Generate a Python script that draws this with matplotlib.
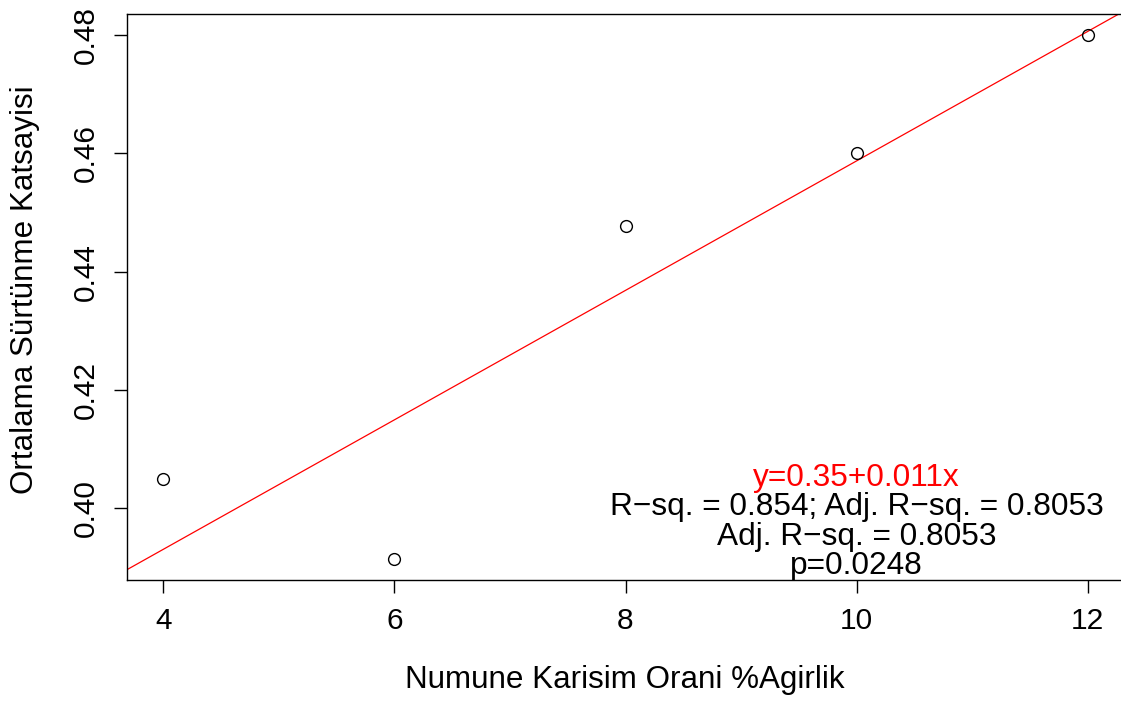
import numpy as np
import matplotlib
matplotlib.use("Agg")
import matplotlib.pyplot as plt

plt.rcParams['font.family'] = ['Liberation Sans', 'DejaVu Sans']

# data
karisim_orani = [4, 6, 8, 10, 12]
surtunme = [0.405, 0.3914, 0.4477, 0.4601, 0.4800]

x_ticks = [4, 6, 8, 10, 12]
y_ticks = [0.40, 0.42, 0.44, 0.46, 0.48]

stat_lines = ["y=0.35+0.011x",
              "R\u2212sq. = 0.854; Adj. R\u2212sq. = 0.8053",
              "Adj. R\u2212sq. = 0.8053",
              "p=0.0248"]
stat_colors = ["red", "black", "black", "black"]
stat_x = 10
stat_y = [0.4051, 0.4002, 0.3951, 0.3902]

W, H = 1121, 703
fig = plt.figure(figsize=(W / 100, H / 100), dpi=100)
# plot region in pixels (runs slightly past the right edge like the original)
left, right, top, bottom = 126.5, 1124.5, 14, 580
ax = fig.add_axes([left / W, 1 - bottom / H, (right - left) / W, (bottom - top) / H])

ax.set_xlim(3.68, 12.32)
ax.set_ylim(0.3879, 0.48354)

# regression line across the whole plot (abline)
slope, intercept = np.polyfit(karisim_orani, surtunme, 1)
xs = np.array(ax.get_xlim())
ax.plot(xs, intercept + slope * xs, color='red', lw=0.9, zorder=2)

ax.plot(karisim_orani, surtunme, 'o', mfc='none', mec='black', ms=8.5, mew=1.0, zorder=3)

for txt, col, yy in zip(stat_lines, stat_colors, stat_y):
    ax.text(stat_x, yy, txt, color=col, fontsize=22.8, ha='center', va='center')

ax.set_xticks(x_ticks)
ax.set_xticklabels([str(v) for v in x_ticks])
ax.set_yticks(y_ticks)
ax.set_yticklabels([f"{v:.2f}" for v in y_ticks], rotation=90, va='center')
ax.tick_params(axis='both', direction='out', length=9.5, width=1.0, labelsize=21.5, pad=10)

for s in ax.spines.values():
    s.set_linewidth(1.0)

ax.set_xlabel("Numune Karisim Orani %Agirlik", fontsize=22.6)
ax.set_ylabel("Ortalama Sürtünme Katsayisi", fontsize=22.6)
ax.xaxis.set_label_coords((625 - left) / (right - left), -(680 - bottom) / (bottom - top))
ax.xaxis.label.set_va('center')
ax.yaxis.set_label_coords(-(left - 25) / (right - left), (bottom - 290) / (bottom - top))
ax.yaxis.label.set_va('center')

fig.savefig("out.png", dpi=100)
